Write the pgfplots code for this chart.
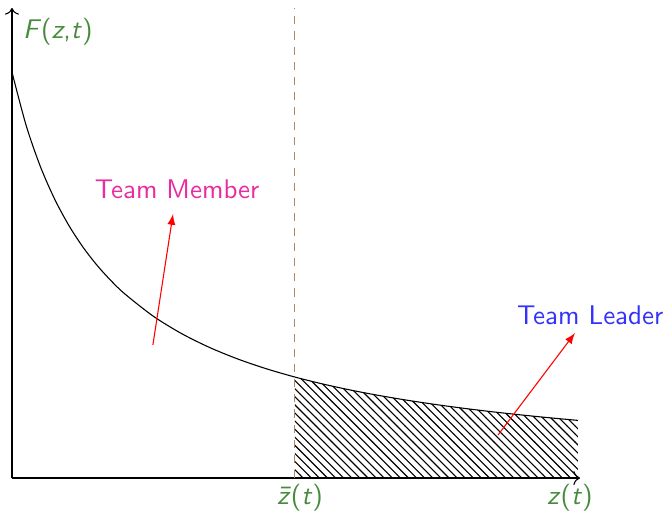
\documentclass[border=0pt]{standalone}
\usepackage{pgfplots}
\pgfplotsset{compat=1.18}
\usetikzlibrary{patterns,arrows.meta}
\renewcommand{\familydefault}{\sfdefault}
\definecolor{lblgreen}{RGB}{70,140,60}
\definecolor{tmpink}{RGB}{232,45,160}
\definecolor{tlblue}{RGB}{50,50,250}
\definecolor{dbrown}{RGB}{175,135,100}
\begin{document}
\begin{tikzpicture}
\begin{axis}[
  scale only axis,
  width=210.4pt, height=174.1pt,
  xmin=0, xmax=10.04, ymin=0, ymax=11.75,
  axis lines=left,
  axis line style={->},
  xtick=\empty, ytick=\empty,
  clip=false,
]
\addplot[draw=none, pattern=north west lines] coordinates {
(5,0) (5,2.524) (5.5,2.348) (6,2.194) (6.5,2.060) (7,1.941) (7.5,1.835) (8,1.740) (8.5,1.654) (9,1.577) (9.5,1.506) (10,1.441) (10,0)} -- cycle;
\addplot[black, thin, smooth] coordinates {
(0,10.145) (0.25,8.814) (0.5,7.792) (0.75,6.983) (1,6.325) (1.25,5.781) (1.5,5.323) (1.75,4.932) (2,4.595) (2.5,4.042) (3,3.608) (3.5,3.258) (4,2.970) (4.5,2.729) (5,2.524) (5.5,2.348) (6,2.194) (6.5,2.060) (7,1.941) (7.5,1.835) (8,1.740) (8.5,1.654) (9,1.577) (9.5,1.506) (10,1.441)};
\addplot[dbrown, thin, dash pattern=on 3pt off 2.6pt] coordinates {(5,0) (5,11.75)};
\addplot[red, thin, -latex] coordinates {(2.49,3.325) (2.846,6.6)};
\addplot[red, thin, -latex] coordinates {(8.59,1.075) (9.95,3.625)};
\node[lblgreen] at (axis cs:0.81,11.15) {\textit{F}(\textit{z},\textit{t})};
\node[lblgreen] at (axis cs:5.09,-0.5) {\textit{\=z}(\textit{t})};
\node[lblgreen] at (axis cs:9.86,-0.5) {\textit{z}(\textit{t})};
\node[tmpink] at (axis cs:2.92,7.225) {Team Member};
\node[tlblue] at (axis cs:10.22,4.075) {Team Leader};
\end{axis}
\pgfresetboundingbox
\path[use as bounding box] (-4.44pt,-13.7pt) rectangle (242.96pt,177.04pt);
\end{tikzpicture}
\end{document}
